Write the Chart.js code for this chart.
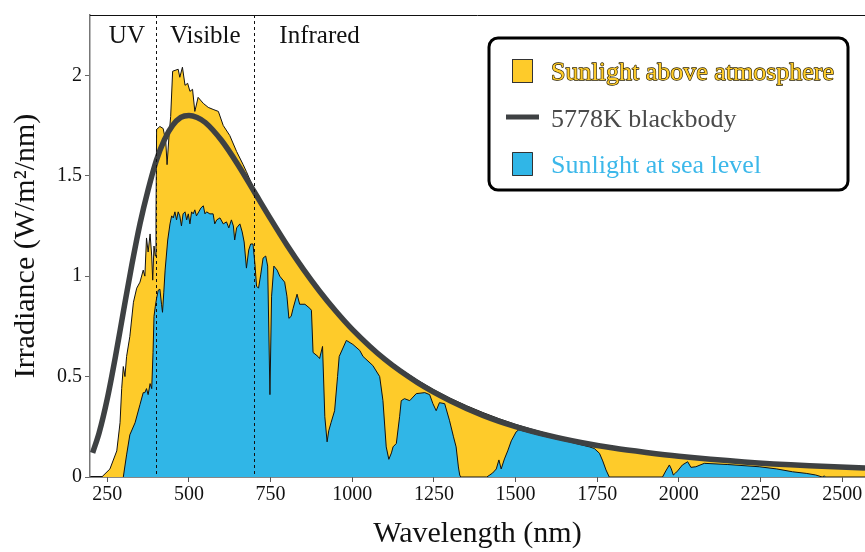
<!DOCTYPE html>
<html lang="en">
<head>
  <meta charset="UTF-8">
  <title>Solar irradiance spectrum</title>
  <style>
    html, body { margin: 0; padding: 0; background: #ffffff; }
    #wrap { width: 865px; height: 552px; }
  </style>
  <script src="https://cdn.jsdelivr.net/npm/chart.js"></script>
</head>
<body>
  <div id="wrap"><canvas id="chart-sun" width="865" height="552"></canvas></div>

  <script>
    // Sunlight above atmosphere (nm, W/m2/nm)
    const topNm = [233, 258, 279, 289, 294, 299, 304, 309, 319, 330, 340, 350, 360, 365, 370, 375, 381, 386, 389, 393, 397, 399,
      401, 411, 421, 429, 433, 439, 444, 450, 467, 472, 480, 488, 496, 503, 511, 518, 528, 544, 559, 574, 590, 605, 625, 646,
      666, 676, 700, 750, 800, 850, 900, 950, 1000, 1050, 1100, 1150, 1200, 1250, 1300, 1350, 1400, 1450, 1500, 1550, 1600,
      1700, 1750, 1800, 1900, 2000, 2100, 2200, 2300, 2400, 2500, 2570];
    const topVal = [0, 0.04, 0.13, 0.27, 0.44, 0.55, 0.50, 0.60, 0.70, 0.87, 0.94, 0.97, 1.03, 1.00, 1.19, 1.12, 1.21, 1.10, 0.98, 1.15, 1.10, 1.30,
      1.73, 1.745, 1.735, 1.67, 1.555, 1.70, 1.795, 2.02, 2.03, 1.99, 2.04, 1.95, 1.96, 1.92, 1.93, 1.82, 1.89, 1.86, 1.84, 1.83, 1.82, 1.75, 1.70, 1.62,
      1.555, 1.52, 1.43, 1.285, 1.155, 1.035, 0.925, 0.825, 0.74, 0.665, 0.595, 0.535, 0.482, 0.434, 0.392, 0.355, 0.321, 0.29, 0.262, 0.238, 0.215,
      0.172, 0.155, 0.14, 0.117, 0.098, 0.084, 0.071, 0.06, 0.051, 0.043, 0.038];

    // Sunlight at sea level
    const seaNm = [299, 309, 319, 335, 350, 360, 365, 370, 375, 381, 386, 390, 393, 397, 401, 406, 411, 416, 419, 423, 427, 435, 442,
      447, 452, 457, 462, 467, 472, 477, 482, 488, 493, 498, 503, 508, 513, 518, 523, 530, 537, 544, 549, 554, 564, 574, 579, 585,
      595, 605, 615, 622, 630, 636, 640, 646, 656, 663, 669, 676, 683, 689, 696, 702, 707, 713, 720, 727, 735, 741, 748, 753, 760,
      770, 778, 793, 800, 806, 813, 819, 831, 839, 855, 870, 875, 880, 895, 900, 909, 916, 923, 928, 935, 946, 955, 960, 982,
      1002, 1023, 1033, 1063, 1084, 1094, 1104, 1112, 1120, 1125, 1135, 1145, 1150, 1160, 1176, 1196, 1222, 1237, 1247, 1257,
      1267, 1283, 1298, 1310, 1318, 1325, 1329, 1332, 1412, 1430, 1441, 1449, 1456, 1466, 1476, 1487, 1502, 1510, 1583, 1665,
      1726, 1741, 1757, 1767, 1777, 1787, 1950, 1960, 1971, 1977, 1983, 1990, 1996, 2011, 2027, 2037, 2052, 2078, 2150, 2246,
      2300, 2348, 2390, 2419, 2439, 2445, 2450, 2570];
    const seaVal = [0, 0.11, 0.21, 0.27, 0.36, 0.42, 0.42, 0.44, 0.41, 0.465, 0.44, 0.62, 0.80, 0.85, 0.89, 0.93, 0.935, 0.86, 0.82, 0.92, 1.03, 1.18, 1.26,
      1.30, 1.29, 1.32, 1.28, 1.32, 1.30, 1.25, 1.31, 1.32, 1.28, 1.31, 1.26, 1.32, 1.31, 1.33, 1.30, 1.32, 1.34, 1.35, 1.31, 1.32, 1.31, 1.31, 1.26, 1.28,
      1.29, 1.26, 1.27, 1.24, 1.28, 1.25, 1.18, 1.24, 1.26, 1.22, 1.17, 1.04, 1.13, 1.16, 1.16, 1.06, 0.95, 0.94, 1.01, 1.09, 1.10, 1.05, 0.41, 0.90, 1.05,
      1.03, 1.00, 0.97, 0.90, 0.79, 0.80, 0.84, 0.91, 0.86, 0.86, 0.84, 0.83, 0.62, 0.60, 0.59, 0.65, 0.30, 0.175, 0.23, 0.27, 0.33, 0.50, 0.60, 0.68,
      0.66, 0.63, 0.60, 0.555, 0.50, 0.38, 0.15, 0.088, 0.12, 0.15, 0.167, 0.30, 0.38, 0.39, 0.38, 0.415, 0.42, 0.41, 0.365, 0.33,
      0.37, 0.365, 0.28, 0.20, 0.15, 0.05, 0.01, 0, 0, 0.02, 0.04, 0.085, 0.04, 0.09, 0.13, 0.18, 0.225, 0.235, 0.205, 0.175,
      0.15, 0.142, 0.118, 0.08, 0.035, 0, 0, 0.03, 0.06, 0.04, 0.01, 0.02, 0.03, 0.06, 0.076, 0.048, 0.051, 0.068, 0.062, 0.051,
      0.04, 0.026, 0.018, 0.01, 0, 0.005, 0, 0];

    // 5778K blackbody
    const bbNm = [205, 225, 250, 275, 300, 325, 350, 375, 400, 425, 450, 475, 500, 525, 550, 600, 650, 700, 750, 800, 850, 900,
      950, 1000, 1100, 1200, 1300, 1400, 1500, 1600, 1700, 1800, 1900, 2000, 2200, 2400, 2570];
    const bbVal = [0.12, 0.22, 0.39, 0.60, 0.83, 1.055, 1.26, 1.43, 1.575, 1.68, 1.75, 1.79, 1.80, 1.79, 1.765, 1.675, 1.555, 1.42, 1.285, 1.155, 1.035, 0.925,
      0.825, 0.735, 0.585, 0.47, 0.38, 0.307, 0.251, 0.207, 0.172, 0.144, 0.122, 0.103, 0.075, 0.056, 0.045];

    const xTicks = [250, 500, 750, 1000, 1250, 1500, 1750, 2000, 2250, 2500];
    const yTicks = [0, 0.5, 1, 1.5, 2];

    // Spectral regions: boundaries and labels
    const bandEdges = [400, 700];
    const bandNames = ['UV', 'Visible', 'Infrared'];
    const bandLabelAt = [310, 550, 900];

    const serif = "'Liberation Serif', 'DejaVu Serif', serif";
    const YELLOW = '#fecb2a';
    const BLUE = '#30b6e7';
    const GREY = '#3e4143';

    const pts = (xs, ys) => xs.map((x, i) => ({ x: x, y: ys[i] }));

    // dashed region lines, labels, top frame and the boxed legend
    const extras = {
      id: 'extras',
      afterDatasetsDraw(chart) {
        const { ctx, chartArea: a, scales: { x } } = chart;
        ctx.save();
        ctx.strokeStyle = '#111';
        ctx.lineWidth = 1;
        ctx.setLineDash([3, 3]);
        bandEdges.forEach(nm => {
          const px = Math.round(x.getPixelForValue(nm)) + 0.5;
          ctx.beginPath();
          ctx.moveTo(px, a.top);
          ctx.lineTo(px, a.bottom);
          ctx.stroke();
        });
        ctx.setLineDash([]);
        ctx.fillStyle = '#111';
        ctx.font = '25px ' + serif;
        ctx.textAlign = 'center';
        ctx.textBaseline = 'alphabetic';
        bandNames.forEach((name, i) => {
          ctx.fillText(name, x.getPixelForValue(bandLabelAt[i]), 43);
        });
        // top frame line
        ctx.beginPath();
        ctx.moveTo(a.left, a.top + 0.5);
        ctx.lineTo(a.right, a.top + 0.5);
        ctx.strokeStyle = '#111';
        ctx.stroke();
        ctx.restore();
      },
      afterDraw(chart) {
        const ctx = chart.ctx;
        const ds = chart.data.datasets;
        ctx.save();
        // frame
        ctx.beginPath();
        ctx.roundRect(489, 38, 359, 152, 9);
        ctx.fillStyle = '#fff';
        ctx.fill();
        ctx.lineWidth = 3;
        ctx.strokeStyle = '#000';
        ctx.stroke();

        ctx.font = '26px ' + serif;
        ctx.textAlign = 'left';
        ctx.textBaseline = 'alphabetic';

        // Sunlight above atmosphere
        ctx.fillStyle = YELLOW;
        ctx.fillRect(512, 59, 21, 24);
        ctx.lineWidth = 1;
        ctx.strokeStyle = '#333';
        ctx.strokeRect(512.5, 59.5, 20, 23);
        ctx.lineWidth = 1.3;
        ctx.lineJoin = 'round';
        ctx.strokeStyle = '#2a2000';
        ctx.strokeText(ds[2].label, 551, 80);
        ctx.fillStyle = YELLOW;
        ctx.fillText(ds[2].label, 551, 80);

        // blackbody
        ctx.beginPath();
        ctx.moveTo(506, 117);
        ctx.lineTo(539, 117);
        ctx.lineWidth = 5;
        ctx.strokeStyle = GREY;
        ctx.stroke();
        ctx.fillStyle = '#4a4a4a';
        ctx.fillText(ds[0].label, 551, 127);

        // sea level
        ctx.fillStyle = BLUE;
        ctx.fillRect(512, 152, 21, 24);
        ctx.lineWidth = 1;
        ctx.strokeStyle = '#333';
        ctx.strokeRect(512.5, 152.5, 20, 23);
        ctx.fillStyle = '#3cb8ea';
        ctx.fillText(ds[1].label, 551, 173);
        ctx.restore();
      }
    };

    new Chart(document.getElementById('chart-sun'), {
      type: 'line',
      data: {
        datasets: [
          {
            label: '5778K blackbody',
            data: pts(bbNm, bbVal),
            borderColor: GREY,
            borderWidth: 5.5,
            pointRadius: 0,
            fill: false,
            cubicInterpolationMode: 'monotone',
            order: 0
          },
          {
            label: 'Sunlight at sea level',
            data: pts(seaNm, seaVal),
            borderColor: '#111',
            borderWidth: 1,
            backgroundColor: BLUE,
            pointRadius: 0,
            fill: 'origin',
            tension: 0,
            order: 1
          },
          {
            label: 'Sunlight above atmosphere',
            data: pts(topNm, topVal),
            borderColor: '#111',
            borderWidth: 1,
            backgroundColor: YELLOW,
            pointRadius: 0,
            fill: 'origin',
            tension: 0,
            order: 2
          }
        ]
      },
      options: {
        responsive: false,
        animation: false,
        layout: { padding: { top: 13, right: 0, left: 0, bottom: 0 } },
        plugins: {
          legend: { display: false },
          tooltip: { enabled: false }
        },
        scales: {
          x: {
            type: 'linear',
            min: 197,
            max: 2570,
            afterBuildTicks: s => { s.ticks = xTicks.map(v => ({ value: v })); },
            afterFit: s => { s.height = 75; },
            grid: { drawOnChartArea: false, drawTicks: true, tickLength: 5, tickColor: '#555' },
            border: { color: '#111', width: 1.5 },
            ticks: { font: { family: serif, size: 20 }, color: '#111', padding: 1, maxRotation: 0, autoSkip: false, callback: v => String(v) },
            title: { display: true, text: 'Wavelength (nm)', font: { family: serif, size: 30 }, color: '#111', padding: { top: 0, bottom: 0 } }
          },
          y: {
            min: 0,
            max: 2.3,
            afterBuildTicks: s => { s.ticks = yTicks.map(v => ({ value: v })); },
            afterFit: s => { s.width = 90; },
            grid: { drawOnChartArea: false, drawTicks: true, tickLength: 5, tickColor: '#666' },
            border: { color: '#777', width: 1.5 },
            ticks: { font: { family: serif, size: 20 }, color: '#111', padding: 3, callback: v => String(v) },
            title: { display: true, text: 'Irradiance (W/m²/nm)', font: { family: serif, size: 30 }, color: '#111', padding: { top: 8, bottom: 0 } }
          }
        }
      },
      plugins: [extras]
    });
  </script>
</body>
</html>
